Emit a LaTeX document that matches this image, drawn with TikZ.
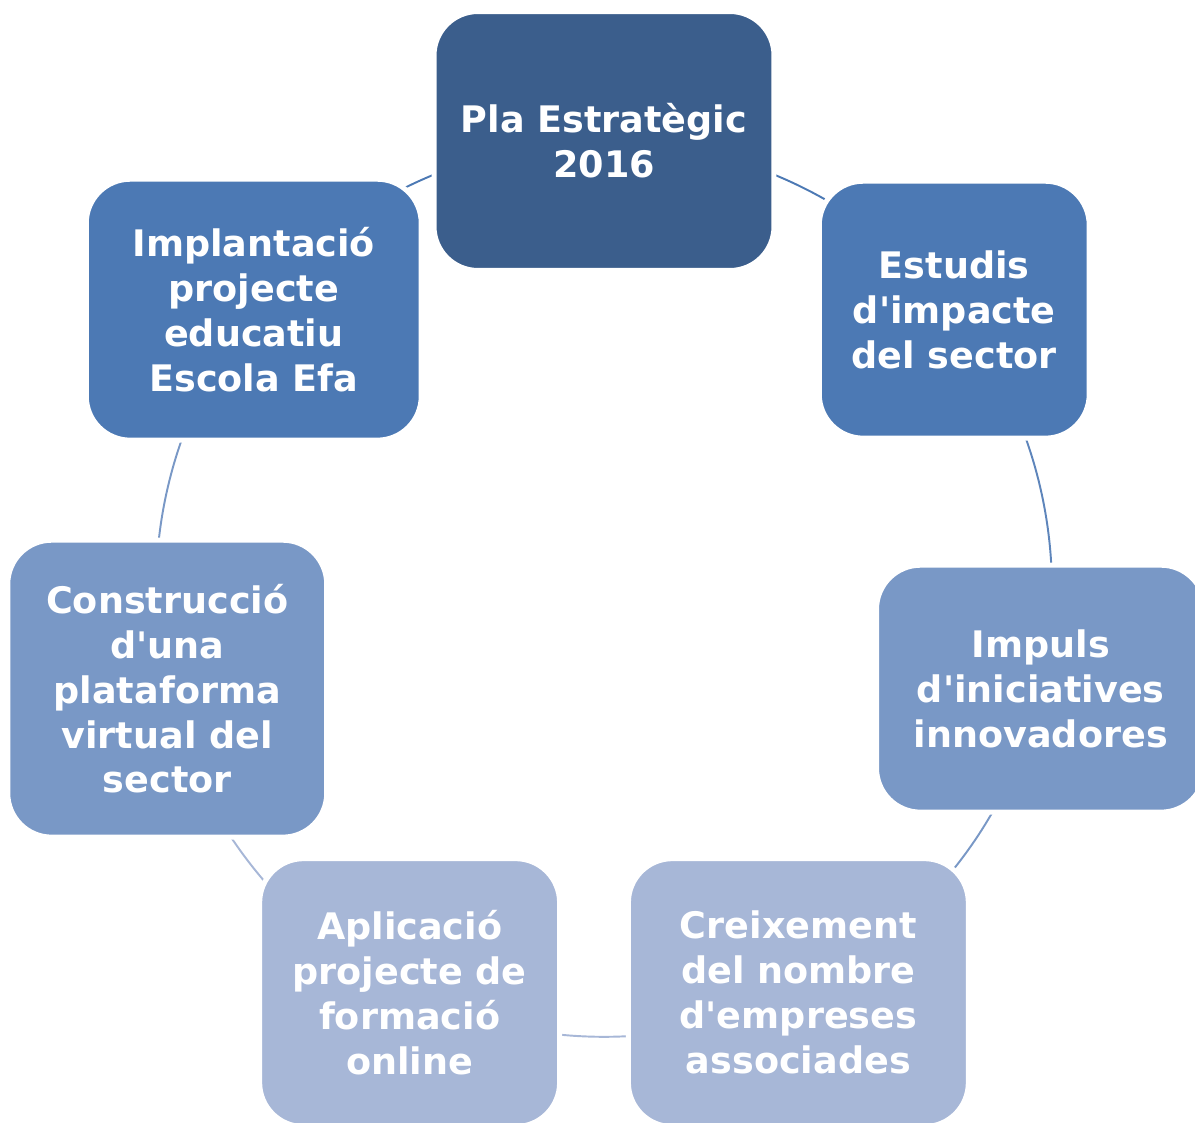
\documentclass[tikz,border=0pt]{standalone}
\usepackage{fontspec}
\setmainfont{DejaVu Sans}[Ligatures=TeXOff]
\definecolor{planblue}{HTML}{3B5E8C}
\definecolor{stepblue}{HTML}{4C79B4}
\definecolor{midblue}{HTML}{7998C6}
\definecolor{paleblue}{HTML}{A7B7D7}
\pgfdeclarelayer{bg}
\pgfsetlayers{bg,main}
\tikzset{
  stage/.style={rectangle, rounded corners=0.88cm, draw=white, line width=0.1cm,
    inner sep=0pt, align=center, text=white,
    font=\fontsize{20.8}{25.6}\selectfont\bfseries},
  ring/.style={bend left=25.71, looseness=0.896},
  wire/.style={line width=1.1pt},
}

\begin{document}
\begin{tikzpicture}[x=0.02cm, y=0.02cm]
    \def\rad{448}
    \def\turn{51.4286}
    \useasboundingbox (-604,-533) rectangle (591,589);

    \node(pla) [stage, fill=planblue, minimum width=6.8cm, minimum height=5.18cm] at (90:\rad) {Pla Estratègic\\2016};
    \node(estudis) [stage, fill=stepblue, minimum width=5.4cm, minimum height=5.14cm] at ({90-\turn}:\rad) {Estudis\\d'impacte\\del sector};
    \node(impuls) [stage, fill=midblue, minimum width=6.57cm, minimum height=4.94cm] at ({90-2*\turn}:\rad) {Impuls\\d'iniciatives\\innovadores};
    \node(creix) [stage, fill=paleblue, minimum width=6.8cm, minimum height=5.36cm] at ({90-3*\turn}:\rad) {Creixement\\del nombre\\d'empreses\\associades};
    \node(aplic) [stage, fill=paleblue, minimum width=6.0cm, minimum height=5.36cm] at ({90-4*\turn}:\rad) {Aplicació\\projecte de\\formació\\online};
    \node(constr) [stage, fill=midblue, minimum width=6.38cm, minimum height=5.94cm] at ({90-5*\turn}:\rad) {Construcció\\d'una\\plataforma\\virtual del\\sector};
    \node(implant) [stage, fill=stepblue, minimum width=6.7cm, minimum height=5.22cm] at ({90-6*\turn}:\rad) {Implantació\\projecte\\educatiu\\Escola Efa};

    % cycle arcs, hidden under the boxes
    \begin{pgfonlayer}{bg}
    \draw[wire, stepblue] (pla.center) to[ring] (estudis.center);
    \draw[wire, stepblue!60!midblue] (estudis.center) to[ring] (impuls.center);
    \draw[wire, midblue] (impuls.center) to[ring] (creix.center);
    \draw[wire, paleblue] (creix.center) to[ring] (aplic.center);
    \draw[wire, paleblue] (aplic.center) to[ring] (constr.center);
    \draw[wire, midblue] (constr.center) to[ring] (implant.center);
    \draw[wire, stepblue] (implant.center) to[ring] (pla.center);
    \end{pgfonlayer}
\end{tikzpicture}
\end{document}
